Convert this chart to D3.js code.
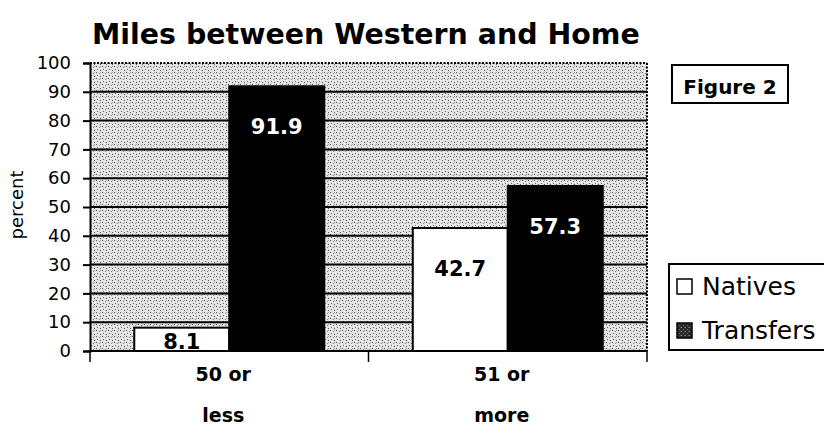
<!DOCTYPE html>
<html>
<head>
<meta charset="utf-8">
<script src="https://cdn.jsdelivr.net/npm/d3@7/dist/d3.min.js"></script>
<style>
  html, body { margin: 0; padding: 0; background: #fff; }
  svg { display: block; }
  text { font-family: "DejaVu Sans", sans-serif; }
</style>
</head>
<body>
<svg id="chart" width="824" height="436"></svg>
<script>
// Distance between campus and home, by student type (percent)
const categories = ["50 or less", "51 or more"];
const categoryLines = [["50 or", "less"], ["51 or", "more"]];
const series = ["Natives", "Transfers"];
const natives = [8.1, 42.7];
const transfers = [91.9, 57.3];
const yTicks = [0, 10, 20, 30, 40, 50, 60, 70, 80, 90, 100];

const svg = d3.select("#chart");
const plot = { left: 90, right: 647, top: 63, bottom: 351 };

// Stippled gray fill for the plot area
const defs = svg.append("defs");
const pat = defs.append("pattern")
  .attr("id", "stipple").attr("width", 6).attr("height", 6)
  .attr("patternUnits", "userSpaceOnUse");
pat.append("rect").attr("width", 6).attr("height", 6).attr("fill", "#e0e0e0");
[[0,0,"#5a5a5a"],[3,1,"#8c8c8c"],[1,3,"#6a6a6a"],[4,4,"#5e5e5e"],[5,2,"#f6f6f6"],[2,5,"#f4f4f4"],[0,4,"#f0f0f0"],[4,0,"#a8a8a8"],[2,2,"#fafafa"]]
  .forEach(([px, py, c]) => pat.append("rect").attr("x", px).attr("y", py).attr("width", 1).attr("height", 1).attr("fill", c));

const darkPat = defs.append("pattern")
  .attr("id", "darkstipple").attr("width", 4).attr("height", 4)
  .attr("patternUnits", "userSpaceOnUse");
darkPat.append("rect").attr("width", 4).attr("height", 4).attr("fill", "#2a2a2a");
[[0,0,"#8a8a8a"],[2,2,"#6a6a6a"],[3,0,"#555"]].forEach(([px, py, c]) =>
  darkPat.append("rect").attr("x", px).attr("y", py).attr("width", 1).attr("height", 1).attr("fill", c));

const y = d3.scaleLinear().domain([0, 100]).range([plot.bottom, plot.top]);
const x0 = d3.scaleBand().domain(categories).range([plot.left, plot.right]).padding(0);
const x1 = d3.scaleBand().domain(series).range([0, x0.bandwidth()]).paddingInner(0).paddingOuter(0.466);

// Plot background
svg.append("rect")
  .attr("x", plot.left).attr("y", plot.top)
  .attr("width", plot.right - plot.left).attr("height", plot.bottom - plot.top)
  .attr("fill", "url(#stipple)");

// Gridlines
svg.append("g").selectAll("line")
  .data(yTicks.filter(t => t > 0 && t < 100))
  .join("line")
  .attr("x1", plot.left).attr("x2", plot.right)
  .attr("y1", d => y(d)).attr("y2", d => y(d))
  .attr("stroke", "#000").attr("stroke-width", 2);

// Dotted top and right borders
svg.append("line")
  .attr("x1", plot.left).attr("x2", plot.right)
  .attr("y1", y(100)).attr("y2", y(100))
  .attr("stroke", "#000").attr("stroke-width", 2).attr("stroke-dasharray", "2,1.5");
svg.append("line")
  .attr("x1", plot.right).attr("x2", plot.right)
  .attr("y1", y(100)).attr("y2", y(0))
  .attr("stroke", "#000").attr("stroke-width", 2).attr("stroke-dasharray", "2,1.5");

// Bars
const rows = categories.map((c, i) => ({ cat: c, vals: [
  { s: "Natives", v: natives[i] },
  { s: "Transfers", v: transfers[i] }
]}));

const groups = svg.append("g").selectAll("g")
  .data(rows).join("g")
  .attr("transform", d => `translate(${x0(d.cat)},0)`);

groups.selectAll("rect")
  .data(d => d.vals).join("rect")
  .attr("x", d => x1(d.s))
  .attr("width", x1.bandwidth())
  .attr("y", d => y(d.v))
  .attr("height", d => y(0) - y(d.v))
  .attr("fill", d => d.s === "Natives" ? "#fff" : "#000")
  .attr("stroke", "#000").attr("stroke-width", 2);

// Value labels, placed inside the bar end
groups.selectAll("text.val")
  .data(d => d.vals).join("text")
  .attr("class", "val")
  .attr("x", d => x1(d.s) + x1.bandwidth() / 2)
  .attr("y", d => Math.min(y(d.v) + 48, y(0) - 2))
  .attr("text-anchor", "middle")
  .attr("font-size", 21).attr("font-weight", "bold")
  .attr("fill", d => d.s === "Natives" ? "#000" : "#fff")
  .text(d => d.v.toFixed(1));

// Left axis
const yAxis = d3.axisLeft(y).tickValues(yTicks).tickSize(7).tickPadding(12);
const ga = svg.append("g").attr("transform", `translate(${plot.left},0)`).call(yAxis);
ga.select(".domain").attr("stroke", "#000").attr("stroke-width", 2);
ga.selectAll(".tick line").attr("stroke", "#000").attr("stroke-width", 2);
ga.selectAll(".tick text").attr("font-size", 18).attr("fill", "#000")
  .attr("font-family", "DejaVu Sans, sans-serif");

// Bottom axis line and category boundary ticks
svg.append("line")
  .attr("x1", plot.left).attr("x2", plot.right)
  .attr("y1", y(0)).attr("y2", y(0))
  .attr("stroke", "#000").attr("stroke-width", 2);
const bounds = [plot.left, ...categories.map(c => x0(c) + x0.bandwidth())];
svg.append("g").selectAll("line").data(bounds).join("line")
  .attr("x1", d => d).attr("x2", d => d)
  .attr("y1", y(0)).attr("y2", y(0) + 11)
  .attr("stroke", "#000").attr("stroke-width", 1.5);

// Category labels (two lines)
const cl = svg.append("g").selectAll("text")
  .data(categories).join("text")
  .attr("text-anchor", "middle")
  .attr("font-size", 19).attr("font-weight", "bold")
  .attr("fill", "#000");
cl.each(function(c, i) {
  const t = d3.select(this);
  categoryLines[i].forEach((line, j) => {
    t.append("tspan")
      .attr("x", x0(c) + x0.bandwidth() / 2 - 6)
      .attr("y", 381 + j * 41)
      .text(line);
  });
});

// Y axis title
svg.append("text")
  .attr("transform", `translate(23,${(y(0) + y(100)) / 2 - 2}) rotate(-90)`)
  .attr("text-anchor", "middle")
  .attr("font-size", 18).attr("fill", "#000")
  .text("percent");

// Title, sized so it spans the chart width
const title = svg.append("text")
  .attr("x", 92).attr("y", 44)
  .attr("font-family", "Lato, sans-serif")
  .attr("font-size", 36).attr("font-weight", "bold").attr("fill", "#000")
  .text("Miles between Western and Home");
const tw = title.node().getComputedTextLength();
title.attr("font-size", 36 * 548 / tw);

// Figure tag
svg.append("rect")
  .attr("x", 672).attr("y", 65).attr("width", 116).attr("height", 38)
  .attr("fill", "#fff").attr("stroke", "#000").attr("stroke-width", 2);
svg.append("text")
  .attr("x", 730).attr("y", 94)
  .attr("text-anchor", "middle")
  .attr("font-size", 20).attr("font-weight", "bold").attr("fill", "#000")
  .text("Figure 2");

// Legend
const lg = svg.append("g");
lg.append("rect")
  .attr("x", 669).attr("y", 264).attr("width", 170).attr("height", 86)
  .attr("fill", "#fff").attr("stroke", "#000").attr("stroke-width", 2);
const items = lg.selectAll("g.item").data(series).join("g")
  .attr("class", "item")
  .attr("transform", (d, i) => `translate(677,${279 + i * 44})`);
items.append("rect")
  .attr("width", 15).attr("height", 15)
  .attr("fill", d => d === "Natives" ? "#fff" : "url(#darkstipple)")
  .attr("stroke", "#000").attr("stroke-width", 1.5);
items.append("text")
  .attr("x", 25).attr("y", 16)
  .attr("font-size", 25).attr("fill", "#000")
  .text(d => d);
</script>
</body>
</html>
